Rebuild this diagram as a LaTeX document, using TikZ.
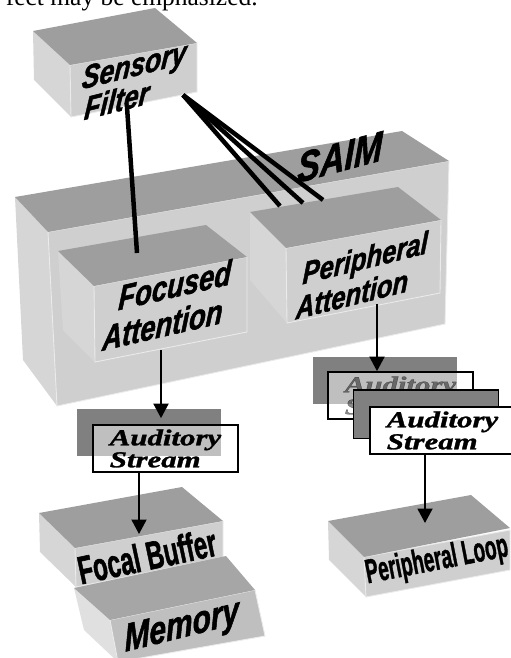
\documentclass[tikz,border=0pt]{standalone}
\usepackage{fontspec}
\setmainfont{Liberation Sans}[BoldFeatures={FakeBold=1.6}, BoldItalicFeatures={FakeBold=1.6}]
\newfontfamily\streamfont{Liberation Serif}[BoldItalicFeatures={FakeBold=1.2}]
\newfontfamily\captionfont{Liberation Serif}
\usetikzlibrary{arrows.meta}
\tikzset{
    topface/.style={fill=#1},
    topface/.default={black!38},
    frontface/.style={fill=black!19, draw=black!8, line width=.5pt},
    sideface/.style={fill=black!16},
    boxtext/.style={inner sep=0pt, align=left, transform shape},
    flattext/.style={inner sep=0pt, transform shape},
    streambox/.style={draw, line width=1pt, minimum width=2.9cm, minimum height=.94cm, inner sep=0pt, align=left, font=\streamfont\bfseries\itshape\fontsize{13}{12.5}\selectfont},
    streamshade/.style={fill=black!50, minimum width=2.88cm, minimum height=.94cm, inner sep=0pt},
    thickline/.style={line width=.09cm},
    thinarrow/.style={line width=1.1pt, -{Triangle[length=.29cm,width=.3cm]}}
}
\begin{document}
\begin{tikzpicture}[x=.02cm,y=-.02cm]
    \useasboundingbox (0,0) rectangle (510,658);
    \node[anchor=base east, inner sep=0pt, font=\captionfont\fontsize{14.5}{16}\selectfont] (caption) at (258,6) {fect may be emphasized.};

    % Sensory filter
    \fill[sideface] (33,31) -- (70,65) -- (71,117) -- (34,80) -- cycle;
    \filldraw[frontface] (70,65) -- (197,43) -- (197,92) -- (71,117) -- cycle;
    \fill[topface] (33,31) -- (155,8) -- (197,43) -- (70,65) -- cycle;
    \node[boxtext, rotate=14, xslant=.35, yscale=1.15, font=\bfseries\itshape\fontsize{15.5}{15}\selectfont] (filter) at (133,81) {Sensory\\\hspace*{.2em}Filter};

    % SAIM
    \fill[sideface] (15,197) -- (48,232) -- (57,406) -- (23,360) -- cycle;
    \filldraw[frontface] (48,232) -- (449,161) -- (445,324) -- (57,406) -- cycle;
    \fill[topface] (15,197) -- (402,131) -- (449,161) -- (48,232) -- cycle;
    \node[boxtext, rotate=15, xslant=.3, xscale=1.25, yscale=1.45, font=\bfseries\itshape\fontsize{16}{18}\selectfont] (saim) at (340,157) {SAIM};

    % Focused attention
    \fill[sideface] (58,251) -- (94,286) -- (95,362) -- (63,330) -- cycle;
    \filldraw[frontface] (94,286) -- (247,257) -- (247,332) -- (95,362) -- cycle;
    \fill[topface] (58,251) -- (206,225) -- (247,257) -- (94,286) -- cycle;
    \node[boxtext, rotate=13, xslant=.3, yscale=1.2, font=\bfseries\itshape\fontsize{16}{17}\selectfont] (focused) at (167,305) {\hspace*{.5em}Focused\\Attention};

    % Peripheral attention
    \fill[sideface] (250,212) -- (286,248) -- (287,323) -- (250,280) -- cycle;
    \filldraw[frontface] (286,248) -- (441,220) -- (440,293) -- (287,323) -- cycle;
    \fill[topface] (250,212) -- (398,187) -- (441,220) -- (286,248) -- cycle;
    \node[boxtext, rotate=14, xslant=.3, yscale=1.15, font=\bfseries\itshape\fontsize{15}{16}\selectfont] (peripheral) at (362,275) {\hspace*{.2em}Peripheral\\Attention};

    % Auditory streams
    \node[streamshade] (shadeleft) at (149,432.5) {};
    \node[streambox, fill=white, fill opacity=.5, text opacity=1] (streamleft) at (165.5,448.5) {\scalebox{1.35}[1]{Auditory}\\\scalebox{1.35}[1]{Stream}};
    \node[streamshade] (shadea) at (385,380.5) {};
    \node[streambox, fill=white, fill opacity=.5, text opacity=.45] (streama) at (400.5,395.5) {\scalebox{1.35}[1]{Auditory}\\\scalebox{1.35}[1]{Stream}};
    \node[streambox, fill=white, minimum height=.96cm] (streamb) at (426,414) {};
    \node[streamshade] (shadeb) at (426,414.5) {};
    \node[streambox, fill=white] (streamc) at (442.5,430.5) {\scalebox{1.35}[1]{Auditory}\\\scalebox{1.35}[1]{Stream}};

    % Focal buffer
    \fill[sideface] (39,513) -- (75,548) -- (76,587) -- (40,552) -- cycle;
    \filldraw[frontface] (75,548) -- (223,521) -- (223,557) -- (76,587) -- cycle;
    \fill[topface] (39,513) -- (182,487) -- (223,521) -- (75,548) -- cycle;
    \node[flattext, rotate=12, xscale=.98, yscale=1.6, font=\bfseries\fontsize{14}{16}\selectfont] (buffer) at (147,556) {Focal Buffer};

    % Memory
    \fill[fill=black!12] (74,588) -- (110,620) -- (118,662) -- (84,630) -- cycle;
    \filldraw[frontface, fill=black!25] (110,620) -- (255,590) -- (265,636) -- (118,662) -- cycle;
    \fill[topface=black!35] (74,588) -- (226,556) -- (255,590) -- (110,620) -- cycle;
    \node[boxtext, rotate=14, xslant=.2, yscale=1.25, font=\bfseries\itshape\fontsize{17.5}{18}\selectfont] (memory) at (182,628) {Memory};

    % Peripheral loop
    \fill[sideface] (328,521) -- (364,557) -- (366,597) -- (329,560) -- cycle;
    \filldraw[frontface] (364,557) -- (510,530) -- (510,570) -- (366,597) -- cycle;
    \fill[topface] (328,521) -- (471,495) -- (510,528) -- (364,557) -- cycle;
    \node[flattext, rotate=11, xscale=.9, yscale=1.6, font=\bfseries\fontsize{12}{14}\selectfont] (loop) at (437,561) {Peripheral Loop};

    % Connector ends
    \coordinate (filterdown) at (127,107);
    \coordinate (filterright) at (183,95);
    \coordinate (focusedtop) at (137,253);
    \coordinate (peripheraltopa) at (280,206);
    \coordinate (peripheraltopb) at (303,203);
    \coordinate (peripheraltopc) at (323,200);
    \coordinate (focusedout) at (161,350);
    \coordinate (peripheralout) at (377,304);
    \coordinate (buffertop) at (139,534);
    \coordinate (looptop) at (425,523);

    \draw[thickline] (filterdown) -- (focusedtop);
    \draw[thickline] (filterright) -- (peripheraltopa);
    \draw[thickline] (filterright) -- (peripheraltopb);
    \draw[thickline] (filterright) -- (peripheraltopc);
    \draw[thinarrow, shorten >=.12cm] (focusedout) -- (focusedout |- streamleft.north);
    \draw[thinarrow] (peripheralout) -- (peripheralout |- streama.north);
    \draw[thinarrow] (buffertop |- streamleft.south) -- (buffertop);
    \draw[thinarrow] (looptop |- streamc.south) -- (looptop);
\end{tikzpicture}
\end{document}
